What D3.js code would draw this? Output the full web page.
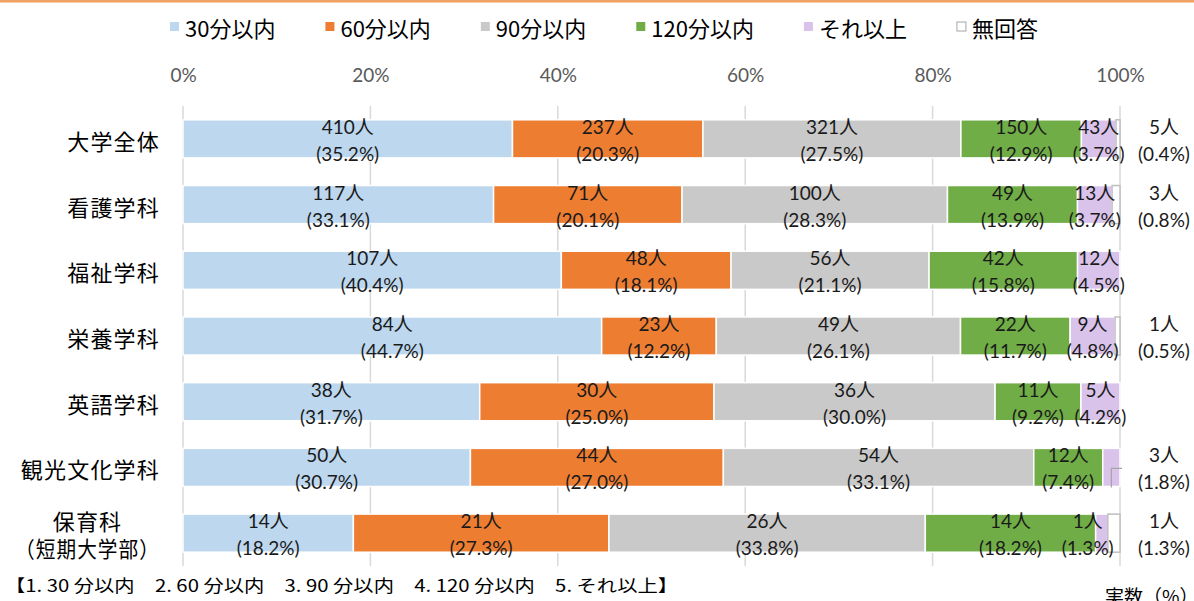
<!DOCTYPE html>
<html><head><meta charset="utf-8">
<script src="https://cdn.jsdelivr.net/npm/d3@7"></script>
<style>body{margin:0;background:#fff;} svg{display:block;}</style>
</head><body><svg id="c" width="1194" height="601"></svg>
<script>
const categories = ["大学全体","看護学科","福祉学科","栄養学科","英語学科","観光文化学科","保育科\n（短期大学部）"];
const seriesNames = ["30分以内","60分以内","90分以内","120分以内","それ以上","無回答"];
const seriesColors = ["#BDD7EE","#ED7D31","#C9C9C9","#70AD47","#D9C3EB","#FFFFFF"];
const counts30  = [410,117,107,84,38,50,14];
const counts60  = [237,71,48,23,30,44,21];
const counts90  = [321,100,56,49,36,54,26];
const counts120 = [150,49,42,22,11,12,14];
const countsMore= [43,13,12,9,5,3,1];
const countsNA  = [5,3,0,1,0,0,1];
const pct30  = [35.2,33.1,40.4,44.7,31.7,30.7,18.2];
const pct60  = [20.3,20.1,18.1,12.2,25.0,27.0,27.3];
const pct90  = [27.5,28.3,21.1,26.1,30.0,33.1,33.8];
const pct120 = [12.9,13.9,15.8,11.7,9.2,7.4,18.2];
const pctMore= [3.7,3.7,4.5,4.8,4.2,1.8,1.3];
const pctNA  = [0.4,0.8,0,0.5,0,0,1.3];
const tickValues = [0,0.2,0.4,0.6,0.8,1];
const footnote = "【1. 30 分以内　2. 60 分以内　3. 90 分以内　4. 120 分以内　5. それ以上】";
const unitNote = "実数（%）";

const countSeries = [counts30,counts60,counts90,counts120,countsMore,countsNA];
const pctSeries = [pct30,pct60,pct90,pct120,pctMore,pctNA];
const rows = categories.map((c,i)=>{const r={cat:c}; seriesNames.forEach((s,j)=>r[s]=countSeries[j][i]); return r;});

const svg = d3.select("#c");
const numFont = "Lato, 'Noto Sans CJK JP', sans-serif";
const jpFont = "'Noto Sans CJK JP', sans-serif";

// top orange rule
svg.append("rect").attr("x",0).attr("y",0).attr("width",1194).attr("height",2.5).attr("fill","#F0A060");

const x = d3.scaleLinear().domain([0,1]).range([183,1120]);
const y = d3.scaleBand().domain(categories).range([106,566]).paddingInner(0.42).paddingOuter(0.21);

// gridlines
svg.append("g").selectAll("line").data(tickValues).join("line")
  .attr("x1",d=>x(d)).attr("x2",d=>x(d)).attr("y1",106).attr("y2",566)
  .attr("stroke","#D9D9D9").attr("stroke-width",1.5);

// top axis tick labels
const axis = d3.axisTop(x).tickValues(tickValues).tickFormat(d3.format(".0%")).tickSize(0).tickPadding(0);
const ag = svg.append("g").attr("transform","translate(0,82)").call(axis);
ag.select(".domain").remove();
ag.selectAll("text").attr("font-family",numFont).attr("font-size",19).attr("fill","#595959").attr("dy",0);

// stacked bars
const stack = d3.stack().keys(seriesNames).offset(d3.stackOffsetExpand);
const layers = stack(rows);
const bars = svg.append("g");
layers.forEach((layer,j)=>{
  bars.append("g").selectAll("rect").data(layer).join("rect")
    .attr("x",d=>x(d[0])).attr("width",d=>Math.max(0,x(d[1])-x(d[0])))
    .attr("y",d=>y(d.data.cat)).attr("height",y.bandwidth())
    .attr("fill",seriesColors[j])
    .attr("stroke",j===5?"#BFBFBF":"#FFFFFF")
    .attr("stroke-width",1.5)
    .attr("display",d=>(d[1]-d[0])>0?null:"none");
});

// labels
const lg = svg.append("g").attr("font-family",numFont).attr("font-size",19).attr("fill","#1a1a1a").attr("text-anchor","middle");
function label(cx, cy, cnt, pct){
  const t = lg.append("text");
  t.append("tspan").attr("x",cx).attr("y",cy-5).text(cnt+"人");
  t.append("tspan").attr("x",cx).attr("y",cy+22).text("("+pct.toFixed(1)+"%)");
}
const rightX = 1164;
layers.forEach((layer,j)=>{
  layer.forEach((d,i)=>{
    const cnt = countSeries[j][i];
    if(!cnt) return;
    const cy = y(d.data.cat)+y.bandwidth()/2;
    const x0 = x(d[0]), x1 = x(d[1]);
    const w = x1-x0;
    if(j===5){ label(rightX, cy, cnt, pctSeries[j][i]); return; }
    if(w<20){
      if(countsNA[i]>0){ label((x0+x1)/2-14, cy, cnt, pctSeries[j][i]); }
      else {
        label(rightX, cy, cnt, pctSeries[j][i]);
        const mx=(x0+x1)/2;
        svg.append("polyline").attr("points",[[x(1)+2,cy+1],[mx,cy+1],[mx,y(d.data.cat)+y.bandwidth()+1]].map(p=>p.join(",")).join(" "))
          .attr("fill","none").attr("stroke","#A6A6A6").attr("stroke-width",1.3);
      }
      return;
    }
    label((x0+x1)/2, cy, cnt, pctSeries[j][i]);
  });
});

// category labels
const cg = svg.append("g").attr("font-family",jpFont).attr("font-size",22).attr("fill","#000").attr("letter-spacing","1.2px");
categories.forEach(c=>{
  const lines = c.split("\n");
  const cy = y(c)+y.bandwidth()/2;
  if(lines.length===1){
    cg.append("text").attr("x",160).attr("y",cy+1).attr("dominant-baseline","central").attr("text-anchor","end").text(c);
  } else {
    const widths = lines.map(l=>l.length>4?145:null);
    const ts = lines.map((l,k)=>{
      const t = cg.append("text").attr("y",cy+(k-0.5)*27).attr("dominant-baseline","central").attr("text-anchor","middle").text(l);
      if(widths[k]) t.attr("textLength",widths[k]).attr("lengthAdjust","spacingAndGlyphs");
      return t;
    });
    const maxW = d3.max(ts,(t,k)=>widths[k]||t.node().getComputedTextLength());
    ts.forEach(t=>t.attr("x",160-maxW/2));
  }
});

// legend
const leg = svg.append("g").attr("font-family",jpFont).attr("font-size",22).attr("fill","#000");
let lx = 170;
seriesNames.forEach((s,j)=>{
  leg.append("rect").attr("x",lx).attr("y",22).attr("width",9).attr("height",9)
    .attr("fill",seriesColors[j]).attr("stroke",j===5?"#A6A6A6":"none").attr("stroke-width",1);
  const t = leg.append("text").attr("x",lx+15).attr("y",27).attr("dominant-baseline","central").text(s);
  lx += 15 + t.node().getComputedTextLength() + 50;
});

// footnote
svg.append("text").attr("x",5).attr("y",592).attr("font-family",jpFont).attr("font-size",17).attr("fill","#000")
  .attr("textLength",673).attr("lengthAdjust","spacingAndGlyphs").text(footnote);
svg.append("text").attr("x",1105).attr("y",604).attr("font-family",jpFont).attr("font-size",19).attr("fill","#000").text(unitNote);
</script></body></html>
